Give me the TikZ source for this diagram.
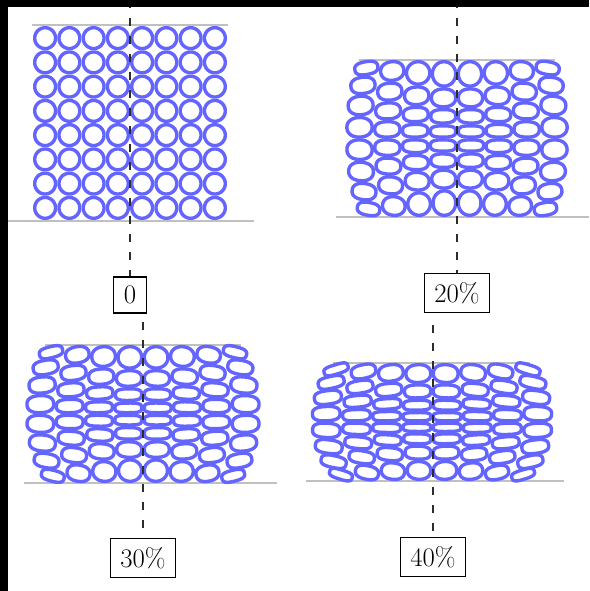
\documentclass[tikz,border=0pt]{standalone}
\usepackage{fontspec}
\definecolor{ring}{RGB}{100,100,255}
\definecolor{platen}{RGB}{192,192,192}
\definecolor{axiscol}{RGB}{45,45,45}
\tikzset{
 particle/.style={draw=ring, line width=3.4pt},
 platenline/.style={draw=platen, line width=1.5pt},
 axisline/.style={draw=axiscol, line width=1.5pt, dash pattern=on 8pt off 10pt},
 strainlabel/.style={draw=black, line width=1.2pt, fill=white, inner xsep=10pt, inner ysep=9pt, font=\fontsize{26.8pt}{32pt}\selectfont},
}
\def\lw{3.4}
\newcommand\drawpanel[9]{%
 \foreach \i in {0,...,7}{%
  \foreach \j in {0,...,7}{%
   \pgfmathsetmacro\Pu{(\i-3.5)/3.5}%
   \pgfmathsetmacro\Pv{(\j-3.5)/3.5}%
   \pgfmathsetmacro\Pal{#9*(1-1.5*\Pu*\Pu)}%
   \pgfmathsetmacro\Pa{(\j-4)/4}%
   \pgfmathsetmacro\Pb{\Pa+0.25}%
   \pgfmathsetmacro\PGa{\Pa*(1-\Pal)+\Pal*\Pa*\Pa*\Pa}%
   \pgfmathsetmacro\PGb{\Pb*(1-\Pal)+\Pal*\Pb*\Pb*\Pb}%
   \pgfmathsetmacro\Ps{(#3-#2-7*#7)/2}%
   \pgfmathsetmacro\Pyt{#2+\Ps*(\PGa+1)+\j*#7}%
   \pgfmathsetmacro\Pyb{#2+\Ps*(\PGb+1)+\j*#7}%
   \pgfmathsetmacro\Pyc{(\Pyt+\Pyb)/2}%
   \pgfmathsetmacro\Phc{\Pyb-\Pyt-\lw}%
   \pgfmathsetmacro\PE{\Pv<0 ? #4-(#4-#5)*\Pv*\Pv : #4-(#4-#6)*\Pv*\Pv}%
   \pgfmathsetmacro\Psp{(\PE-7*#8)/8}%
   \pgfmathsetmacro\Pxc{#1-\PE/2+\Psp*(\i+0.5)+\i*#8}%
   \pgfmathsetmacro\Pwc{\Psp-\lw}%
   \pgfmathsetmacro\Pwr{\Pwc/2}%
   \pgfmathsetmacro\Phr{\Phc/2}%
   \pgfmathsetmacro\Pasp{max(\Pwc,\Phc)/min(\Pwc,\Phc)}%
   \pgfmathsetmacro\Pn{min(2+0.7*(\Pasp-1),3.4)}%
   \pgfmathsetmacro\Pe{2/\Pn-1}%
   \pgfmathsetmacro\Pth{\Tilt*\Pu*\Pv}%
   \draw[particle, shift={(\Pxc,\Pyc)}, rotate=\Pth] plot[smooth cycle, domain=5:355, samples=36, variable=\t] ({\Pwr*cos(\t)*pow(abs(cos(\t)),\Pe)}, {\Phr*sin(\t)*pow(abs(sin(\t)),\Pe)});
  }}}
\begin{document}
\begin{tikzpicture}[x=1pt,y=-1pt]
\useasboundingbox (0,0) rectangle (589,591);
\fill[white] (0,0) rectangle (589,591);
% platens
\draw[platenline] (32,25) -- (228,25);
\draw[platenline] (1,221) -- (254,221);
\draw[platenline] (359,60) -- (555,60);
\draw[platenline] (336,217) -- (589,217);
\draw[platenline] (45,345) -- (241,345);
\draw[platenline] (24,483) -- (277,483);
\draw[platenline] (333,363) -- (530,363);
\draw[platenline] (306,481) -- (564,481);
% particles
\def\Tilt{0}\drawpanel{130}{26}{220}{194}{194}{194}{0}{0}{0}
\def\Tilt{10}\drawpanel{457}{60}{217}{224}{208}{203}{-0.6}{-0.8}{0.3}
\def\Tilt{14}\drawpanel{143}{345}{483}{236}{211}{207}{-0.8}{-0.8}{0.3}
\def\Tilt{17}\drawpanel{432}{363}{481}{243}{220}{209}{-1.0}{-0.8}{0.28}
% labels
\node[strainlabel] (L1) at (130,295) {0};
\node[strainlabel] (L2) at (457,293) {20\%};
\node[strainlabel] (L3) at (143,558) {30\%};
\node[strainlabel] (L4) at (433,557) {40\%};
% axes
\coordinate (T1) at (130,0);
\coordinate (T2) at (457,0);
\coordinate (T3) at (143,322);
\coordinate (T4) at (433,325);
\draw[axisline] (T1) -- (L1.north);
\draw[axisline] (T2) -- (L2.north);
\draw[axisline] (T3) -- (L3.north);
\draw[axisline] (T4) -- (L4.north);
% frame strips
\fill[black] (0,0) rectangle (8,591);
\fill[black] (0,0) rectangle (589,7);
\end{tikzpicture}
\end{document}
